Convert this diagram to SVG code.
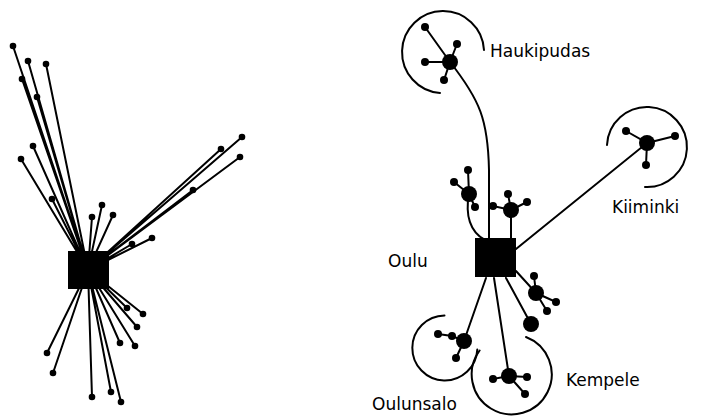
<svg xmlns="http://www.w3.org/2000/svg" width="702" height="416" viewBox="0 0 702 416">
<style>
.l{stroke:#000;stroke-width:2;fill:none;stroke-linecap:round}
.d{fill:#000}
.t{font-family:"DejaVu Sans",Verdana,sans-serif;font-size:17px;fill:#000}
</style>
<rect width="702" height="416" fill="#fff"/>
<g id="connectors" class="l">
<path d="M88,270L13,46M88,270L28,61M88,270L46,64M88,270L22,79M88,270L37,97M88,270L33,146M88,270L21,159M88,270L52,199M88,270L102,205M88,270L92,217M88,270L113,215M88,270L242,137M88,270L221,149M88,270L240,157M88,270L193,190M88,270L132,244M88,270L152,238M88,270L127,308M88,270L143,314M88,270L137,327M88,270L120,343M88,270L135,346M88,270L47,353M88,270L53,373M88,270L92,397M88,270L111,392M88,270L121,402"/>
<path d="M425,27L450,62C480,100 488,120 489,170L489,240"/>
<path d="M450,62L457,44M450,62L425,62M450,62L444,80"/>
<path d="M516,249L647,143L626,131M647,143L675,136M647,143L646,165"/>
<path d="M469,194C465,215 470,232 485,240M469,194L468,170M469,194L454,182M469,194L475,207"/>
<path d="M511,210L511,240M511,210L508,194M511,210L493,206M511,210L527,202"/>
<path d="M486,278L464,341L452,336L438,334M464,341L456,358"/>
<path d="M494,278L509,376L493,379M509,376L527,377M509,376L525,394"/>
<path d="M506,278L531,324"/>
<path d="M516,271L536,293L534,276M536,293L556,302M536,293L547,311"/>
<path d="M440,93A41,41 0 1 1 484,50"/>
<path d="M607,145A40,40 0 1 1 645,187"/>
<path d="M444.5,315.5A32.5,32.5 0 1 0 477.3,349.5"/>
<path d="M526,337A40,40 0 1 1 479.6,350.5"/>
</g>
<g id="star">
<rect x="68" y="251" width="41" height="38" class="d"/>
<g class="d">
<circle cx="13" cy="46" r="3.3"/><circle cx="28" cy="61" r="3.3"/><circle cx="46" cy="64" r="3.3"/><circle cx="22" cy="79" r="3.3"/><circle cx="37" cy="97" r="3.3"/><circle cx="33" cy="146" r="3.3"/><circle cx="21" cy="159" r="3.3"/><circle cx="52" cy="199" r="3.3"/><circle cx="102" cy="205" r="3.3"/><circle cx="92" cy="217" r="3.3"/><circle cx="113" cy="215" r="3.3"/><circle cx="242" cy="137" r="3.3"/><circle cx="221" cy="149" r="3.3"/><circle cx="240" cy="157" r="3.3"/><circle cx="193" cy="190" r="3.3"/><circle cx="132" cy="244" r="3.3"/><circle cx="152" cy="238" r="3.3"/><circle cx="127" cy="308" r="3.3"/><circle cx="143" cy="314" r="3.3"/><circle cx="137" cy="327" r="3.3"/><circle cx="120" cy="343" r="3.3"/><circle cx="135" cy="346" r="3.3"/><circle cx="47" cy="353" r="3.3"/><circle cx="53" cy="373" r="3.3"/><circle cx="92" cy="397" r="3.3"/><circle cx="111" cy="392" r="3.3"/><circle cx="121" cy="402" r="3.3"/>
</g>
</g>
<g id="oulu">
<rect x="475" y="238" width="41" height="39" class="d"/>
<text x="388" y="267" class="t">Oulu</text>
</g>
<g id="haukipudas" class="d">
<circle cx="450" cy="62" r="8"/><circle cx="425" cy="27" r="4"/><circle cx="457" cy="44" r="4"/><circle cx="425" cy="62" r="4"/><circle cx="444" cy="80" r="4"/>
<text x="490" y="57" class="t">Haukipudas</text>
</g>
<g id="kiiminki" class="d">
<circle cx="647" cy="143" r="8"/><circle cx="626" cy="131" r="4"/><circle cx="675" cy="136" r="4"/><circle cx="646" cy="165" r="4"/>
<text x="612" y="213" class="t">Kiiminki</text>
</g>
<g id="clusterA" class="d">
<circle cx="469" cy="194" r="8"/><circle cx="468" cy="170" r="4"/><circle cx="454" cy="182" r="4"/><circle cx="475" cy="207" r="4"/>
</g>
<g id="clusterB" class="d">
<circle cx="511" cy="210" r="8"/><circle cx="508" cy="194" r="4"/><circle cx="493" cy="206" r="4"/><circle cx="527" cy="202" r="4"/>
</g>
<g id="clusterC" class="d">
<circle cx="536" cy="293" r="8"/><circle cx="534" cy="276" r="4"/><circle cx="556" cy="302" r="4"/><circle cx="547" cy="311" r="4"/>
</g>
<g id="single" class="d">
<circle cx="531" cy="324" r="8"/>
</g>
<g id="oulunsalo" class="d">
<circle cx="464" cy="341" r="8"/><circle cx="452" cy="336" r="4"/><circle cx="438" cy="334" r="4"/><circle cx="456" cy="358" r="4"/>
<text x="372" y="410" class="t">Oulunsalo</text>
</g>
<g id="kempele" class="d">
<circle cx="509" cy="376" r="8"/><circle cx="493" cy="379" r="4"/><circle cx="527" cy="377" r="4"/><circle cx="525" cy="394" r="4"/>
<text x="566" y="386" class="t">Kempele</text>
</g>
</svg>
